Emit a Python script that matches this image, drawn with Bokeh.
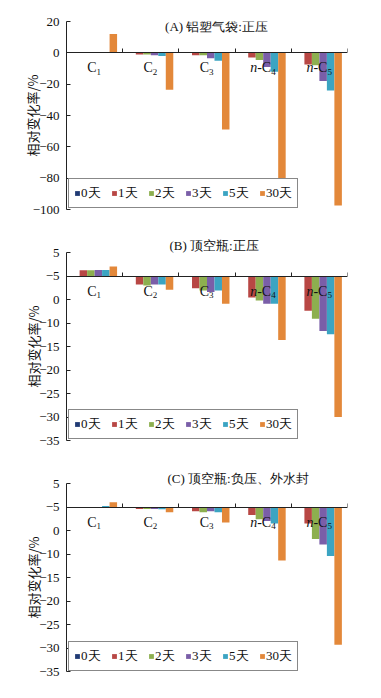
from bokeh.plotting import figure
from bokeh.layouts import column
from bokeh.models import Range1d, FixedTicker, Label, ColumnDataSource, Legend, Title
from bokeh.core.properties import value
from bokeh.embed import file_html
from bokeh.resources import INLINE

# ---------------- data ----------------
categories = ["C1", "C2", "C3", "n-C4", "n-C5"]
cat_main = ["C", "C", "C", "-C", "-C"]
cat_prefix = ["", "", "", "n", "n"]
cat_sub = ["1", "2", "3", "4", "5"]
days = ["0天", "1天", "2天", "3天", "5天", "30天"]
colors = ["#203a74", "#b84744", "#8daf4f", "#7a5ea8", "#3ba4c2", "#e3883a"]

titles = ["(A) 铝塑气袋:正压", "(B) 顶空瓶:正压", "(C) 顶空瓶:负压、外水封"]

# panel A
a_0 = [0, 0, 0, 0, 0]
a_1 = [0, -1.0, -1.5, -3.0, -7.5]
a_2 = [0, -1.0, -1.5, -4.5, -8.0]
a_3 = [0.3, -1.5, -3.5, -9.0, -18.0]
a_5 = [0.5, -2.0, -5.0, -12.0, -24.0]
a_30 = [12.0, -23.5, -49.0, -81.0, -97.5]

# panel B
b_0 = [0, 0, 0, 0, 0]
b_1 = [1.2, -1.8, -2.6, -4.6, -7.4]
b_2 = [1.2, -2.0, -3.1, -5.2, -9.1]
b_3 = [1.3, -1.8, -3.4, -5.9, -11.7]
b_5 = [1.3, -1.8, -3.1, -5.9, -12.4]
b_30 = [2.0, -2.9, -5.9, -13.6, -30.0]

# panel C
c_0 = [0, 0, 0, 0, 0]
c_1 = [-0.1, -0.4, -0.9, -1.7, -3.5]
c_2 = [-0.1, -0.4, -1.1, -2.6, -6.8]
c_3 = [-0.1, -0.4, -0.9, -3.0, -8.0]
c_5 = [0.2, -0.5, -1.1, -3.5, -10.4]
c_30 = [1.0, -1.1, -3.3, -11.4, -29.3]

a_ticks = [20, 0, -20, -40, -60, -80, -100]
a_tick_labels = ["20", "0", "−20", "−40", "−60", "−80", "−100"]
bc_ticks = [5, 0, -5, -10, -15, -20, -25, -30, -35]
bc_tick_labels = ["5", "−5", "0", "−10", "−15", "−20", "−25", "−30", "−35"]

SERIF = "Liberation Serif"
CJK = "Noto Sans CJK SC"


def make_panel(series, ymin, ymax, ticks, tick_labels, title, title_mode,
               title_pos, border_top, border_bottom, label_standoff, legend_y):
    p = figure(frame_width=281, frame_height=188, min_border_left=66,
               min_border_right=10, min_border_top=border_top,
               min_border_bottom=border_bottom, output_backend="svg",
               toolbar_location=None, title=None,
               x_range=Range1d(0, len(categories)), y_range=Range1d(ymin, ymax))
    p.outline_line_color = None
    p.xgrid.grid_line_color = None
    p.ygrid.grid_line_color = None

    n = len(days)
    bw = 0.8 / n
    renderers = []
    for j, (vals, col, day) in enumerate(zip(series, colors, days)):
        xs = [i + 0.5 + (j - (n - 1) / 2) * bw for i in range(len(categories))]
        src = ColumnDataSource(dict(x=xs, top=vals))
        r = p.vbar(x="x", top="top", bottom=0, width=bw, source=src,
                   fill_color=col, line_color=None)
        renderers.append((day, [r]))

    legend = Legend(items=renderers, orientation="horizontal",
                    location=(2, legend_y), glyph_width=6, glyph_height=6,
                    label_standoff=1, spacing=10, padding=5, margin=0,
                    label_text_font=SERIF, label_text_font_size="13px",
                    label_text_color="#111111", border_line_color="#111111",
                    border_line_width=1, background_fill_color="white",
                    background_fill_alpha=1.0)
    p.add_layout(legend, "center")

    # category labels under the zero line
    cx = [i + 0.5 for i in range(len(categories))]
    main_off = [2 if pre == "" else 8 for pre in cat_prefix]
    pre_off = [2 - 14 if pre == "" else 8 - 14 for pre in cat_prefix]
    lsrc = ColumnDataSource(dict(x=cx, y=[0] * len(cx), main=cat_main,
                                 sub=cat_sub, pre=cat_prefix,
                                 mo=main_off, po=pre_off))
    p.text(x="x", y="y", text="main", source=lsrc, x_offset="mo", y_offset=15,
           text_align="right", text_baseline="middle",
           text_font=value(SERIF), text_font_size="14px", text_color="#111111")
    p.text(x="x", y="y", text="sub", source=lsrc, x_offset="mo", y_offset=19,
           text_align="left", text_baseline="middle",
           text_font=value(SERIF), text_font_size="9px", text_color="#111111")
    p.text(x="x", y="y", text="pre", source=lsrc, x_offset="po", y_offset=15,
           text_align="right", text_baseline="middle",
           text_font=value(SERIF), text_font_style="italic",
           text_font_size="14px", text_color="#111111")

    # x axis drawn on the zero line
    xa = p.xaxis[0]
    xa.fixed_location = 0
    xa.ticker = FixedTicker(ticks=list(range(len(categories) + 1)))
    xa.major_tick_in = 4
    xa.major_tick_out = 0
    xa.minor_tick_line_color = None
    xa.major_label_text_color = None
    xa.axis_line_color = "#222222"
    xa.major_tick_line_color = "#222222"

    ya = p.yaxis[0]
    ya.ticker = FixedTicker(ticks=ticks)
    ya.major_label_overrides = {t: s for t, s in zip(ticks, tick_labels)}
    ya.major_tick_in = 4
    ya.major_tick_out = 0
    ya.minor_tick_line_color = None
    ya.major_label_standoff = 7
    ya.major_label_text_font = SERIF
    ya.major_label_text_font_size = "13px"
    ya.major_label_text_color = "#111111"
    ya.axis_line_color = "#222222"
    ya.major_tick_line_color = "#222222"
    ya.axis_label = "相对变化率/%"
    ya.axis_label_text_font = CJK
    ya.axis_label_text_font_size = "13px"
    ya.axis_label_text_font_style = "normal"
    ya.axis_label_text_color = "#111111"
    ya.axis_label_standoff = label_standoff

    if title_mode == "inside":
        p.add_layout(Label(x=title_pos[0], y=title_pos[1], x_units="screen",
                           y_units="screen", text=title, text_align="center",
                           text_baseline="middle", text_font=SERIF,
                           text_font_size="13px", text_color="#111111"))
    else:
        p.add_layout(Title(text=title, align="left", offset=title_pos[0],
                           standoff=title_pos[1], text_font=SERIF,
                           text_font_size="13px", text_font_style="normal",
                           text_color="#111111"), "above")
    return p


pa = make_panel([a_0, a_1, a_2, a_3, a_5, a_30], -100, 20, a_ticks,
                a_tick_labels, titles[0], "inside", (150, 183), 21, 25, -12, 1)
pb = make_panel([b_0, b_1, b_2, b_3, b_5, b_30], -35, 5, bc_ticks,
                bc_tick_labels, titles[1], "above", (103, 0), 18, 25, -7, 1)
pc = make_panel([c_0, c_1, c_2, c_3, c_5, c_30], -35, 5, bc_ticks,
                bc_tick_labels, titles[2], "above", (101, -4), 18, 10, -7, 0)

layout = column(pa, pb, pc, spacing=0)
open("out.html", "w").write(file_html(layout, INLINE))
